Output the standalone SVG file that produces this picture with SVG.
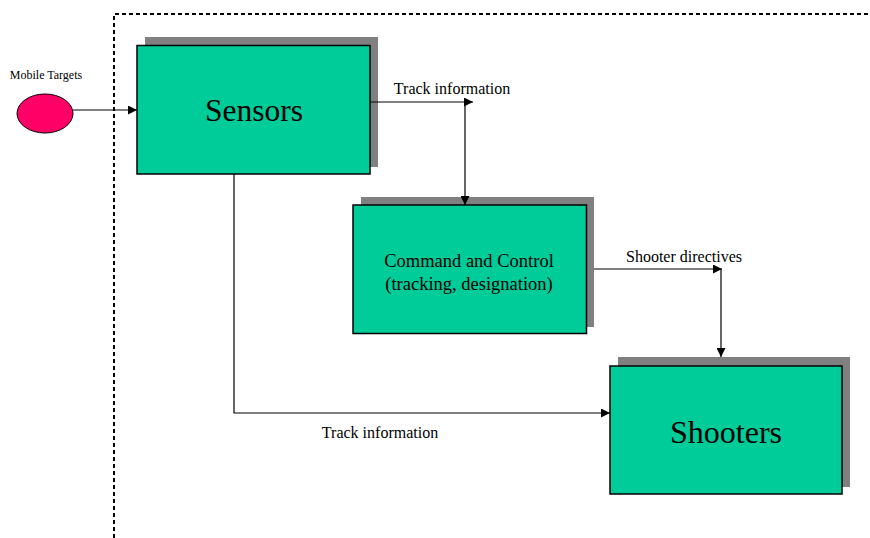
<svg xmlns="http://www.w3.org/2000/svg" width="870" height="538" viewBox="0 0 870 538">
  <style>
    .shadow { fill: #808080; }
    .box { fill: #00CC99; stroke: #000; stroke-width: 1.5; }
    .wire { fill: none; stroke: #000; stroke-width: 1.2; }
    .lbl { font-family: "Liberation Serif", "Times New Roman", serif; fill: #000; }
  </style>
  <defs>
    <marker id="arrow" viewBox="0 0 10 10" refX="10" refY="5" markerWidth="10" markerHeight="9" markerUnits="userSpaceOnUse" orient="auto">
      <path d="M0,0 L10,5 L0,10 Z" fill="#000"/>
    </marker>
  </defs>
  <rect width="870" height="538" fill="#fff"/>

  <!-- system boundary -->
  <path d="M114,538 V14 H870" fill="none" stroke="#000" stroke-width="2" stroke-dasharray="4 3"/>

  <g id="mobile-targets">
    <ellipse cx="45" cy="113.5" rx="28" ry="19.5" fill="#FF0066" stroke="#000" stroke-width="1"/>
    <text class="lbl" x="46" y="79" font-size="12" text-anchor="middle">Mobile Targets</text>
  </g>

  <g id="sensors">
    <rect class="shadow" x="145" y="37" width="233" height="130"/>
    <rect class="box" x="137" y="45.5" width="233" height="128.5"/>
    <text class="lbl" x="254" y="121" font-size="31.5" text-anchor="middle">Sensors</text>
  </g>

  <g id="command-and-control">
    <rect class="shadow" x="361" y="197" width="233" height="130"/>
    <rect class="box" x="353" y="205" width="233.5" height="128.5"/>
    <text class="lbl" x="469" y="267" font-size="18.5" text-anchor="middle">Command and Control</text>
    <text class="lbl" x="469" y="290" font-size="18.5" text-anchor="middle">(tracking, designation)</text>
  </g>

  <g id="shooters">
    <rect class="shadow" x="618" y="357" width="232" height="130"/>
    <rect class="box" x="610" y="366" width="232" height="128"/>
    <text class="lbl" x="726" y="443" font-size="32" text-anchor="middle">Shooters</text>
  </g>

  <g id="connectors">
    <path class="wire" d="M73,110 H137" marker-end="url(#arrow)"/>
    <path class="wire" d="M370,102 H473" marker-end="url(#arrow)"/>
    <path class="wire" d="M465,102 V205" marker-end="url(#arrow)"/>
    <path class="wire" d="M594,269 H722" marker-end="url(#arrow)"/>
    <path class="wire" d="M721,269 V357" marker-end="url(#arrow)"/>
    <path class="wire" d="M234,174 V413 H610" marker-end="url(#arrow)"/>
    <text class="lbl" x="452" y="94" font-size="16" text-anchor="middle">Track information</text>
    <text class="lbl" x="684" y="262" font-size="16" text-anchor="middle">Shooter directives</text>
    <text class="lbl" x="380" y="438" font-size="16" text-anchor="middle">Track information</text>
  </g>
</svg>
